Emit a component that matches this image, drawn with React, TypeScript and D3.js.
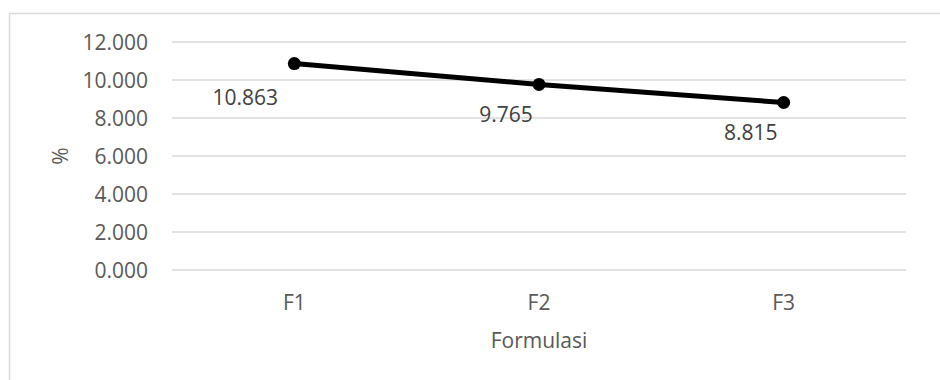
import React from "react";
import * as d3 from "d3";

const categories = ["F1", "F2", "F3"];
const values = [10.863, 9.765, 8.815];
const yTicks = [0, 2, 4, 6, 8, 10, 12];

const W = 940;
const H = 380;
const margin = { left: 172, right: 34, top: 42, bottom: 110 };
const FONT = "'Open Sans', 'Noto Sans', sans-serif";

export default function App() {
  const x = d3
    .scaleBand<string>()
    .domain(categories)
    .range([margin.left, W - margin.right]);
  const y = d3.scaleLinear().domain([0, 12]).range([H - margin.bottom, margin.top]);
  const cx = (c: string) => (x(c) ?? 0) + x.bandwidth() / 2;

  const line = d3
    .line<number>()
    .x((_, i) => cx(categories[i]))
    .y((d) => y(d));

  // label placement relative to each marker (left / below)
  const labelDx = (i: number) => (i === 0 ? -49 : -33);
  const labelDy = (i: number) => (i === 0 ? 34 : 30);

  return (
    <svg
      width={W}
      height={H}
      style={{ position: "absolute", left: 0, top: 0, background: "#fff" }}
      fontFamily={FONT}
    >
      <rect x={9.5} y={13.5} width={W} height={H} fill="#fff" stroke="#d9d9d9" strokeWidth={1.5} />
      {yTicks.map((t) => (
        <g key={t}>
          <line
            x1={margin.left}
            x2={W - margin.right}
            y1={y(t)}
            y2={y(t)}
            stroke="#d9d9d9"
            strokeWidth={1.5}
          />
          <text
            x={148}
            y={y(t)}
            dy="0.36em"
            textAnchor="end"
            fontSize={21}
            fill="#595959"
          >
            {d3.format(".3f")(t)}
          </text>
        </g>
      ))}
      {categories.map((c) => (
        <text key={c} x={cx(c)} y={302} dy="0.36em" textAnchor="middle" fontSize={21} fill="#595959">
          {c}
        </text>
      ))}
      <text x={(margin.left + W - margin.right) / 2} y={340} dy="0.36em" textAnchor="middle" fontSize={21} fill="#595959">
        Formulasi
      </text>
      <text
        transform={`translate(60,${(y(0) + y(12)) / 2}) rotate(-90)`}
        dy="0.36em"
        textAnchor="middle"
        fontSize={21}
        fill="#595959"
      >
        %
      </text>
      <path d={line(values) ?? ""} fill="none" stroke="#000" strokeWidth={5} strokeLinejoin="round" />
      {values.map((v, i) => (
        <circle key={i} cx={cx(categories[i])} cy={y(v)} r={6.5} fill="#000" />
      ))}
      {values.map((v, i) => (
        <text
          key={`l${i}`}
          x={cx(categories[i]) + labelDx(i)}
          y={y(v) + labelDy(i)}
          dy="0.36em"
          textAnchor="middle"
          fontSize={21}
          fill="#404040"
        >
          {d3.format(".3f")(v)}
        </text>
      ))}
    </svg>
  );
}
